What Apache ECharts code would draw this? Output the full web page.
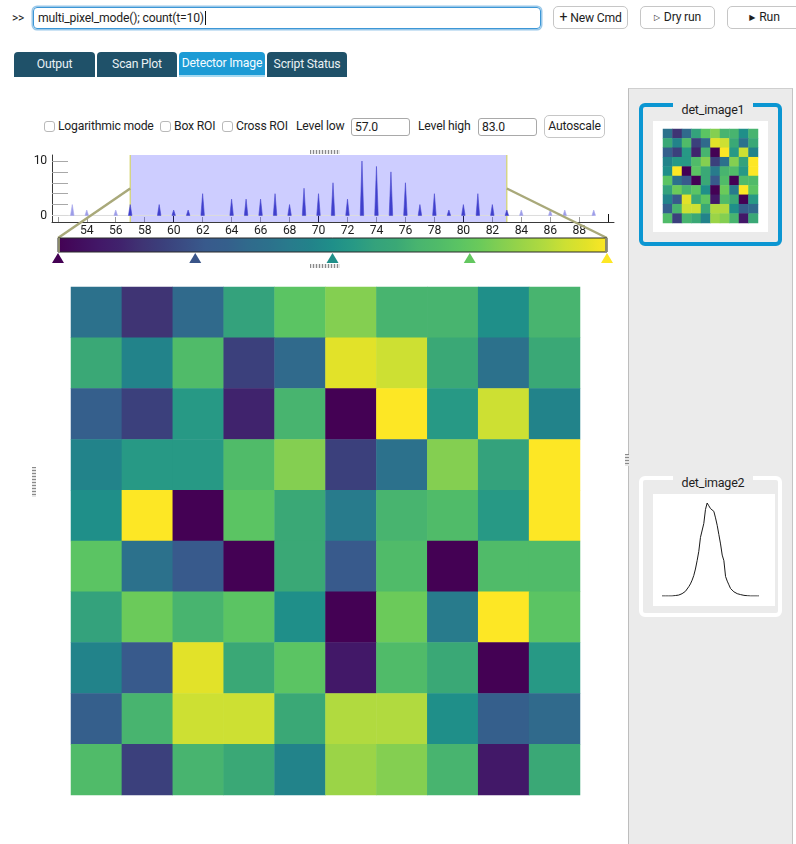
<!DOCTYPE html>
<html>
<head>
<meta charset="utf-8">
<script src="https://cdn.jsdelivr.net/npm/echarts@6/dist/echarts.min.js"></script>
<style>
  html, body { margin: 0; padding: 0; }
  body { width: 796px; height: 844px; overflow: hidden; background: #fff; position: relative;
         font-family: Roboto, "Noto Sans", "Liberation Sans", sans-serif; font-size: 12px; color: #1e1e1e;
         letter-spacing: -0.2px; }
  .abs { position: absolute; box-sizing: border-box; white-space: nowrap; }
  .cmd { left: 33px; top: 7px; width: 508px; height: 22px; border: 1px solid #3d97d6; border-radius: 4px;
         box-shadow: 0 0 0 1.5px rgba(70,155,215,0.55); padding: 0 4px; line-height: 20px; font-size: 12.2px; }
  .caret { display: inline-block; width: 1px; height: 14px; background: #111; vertical-align: -3px; margin-left: 1px; }
  .btn { top: 6px; height: 23px; width: 75px; border: 1px solid #c6c6c6; border-radius: 5px; background: #fff;
         text-align: center; line-height: 21px; font-size: 12.2px; }
  .ico { font-family: "DejaVu Sans", sans-serif; font-size: 8px; vertical-align: 1px; margin-right: 4px; }
  .tab { top: 52px; height: 25px; line-height: 24px; text-align: center; background: #1f5169; color: #e9f0f4;
         border-radius: 4px 4px 0 0; font-size: 12.2px; }
  .tab.sel { background: #1d9bd5; color: #f5fbff; border-bottom: 2px solid #a6d9f0; line-height: 23px; }
  .chk { width: 11px; height: 11px; border: 1px solid #b9b9b9; border-radius: 3px; background: #fff; top: 121px; }
  .lbl { top: 119px; font-size: 12.2px; }
  .fld { top: 118px; height: 18px; border: 1px solid #a9a9a9; border-radius: 3px; padding-left: 3px;
         line-height: 16px; font-size: 12.2px; background: #fff; }
  .hgrip { height: 4px; background: repeating-linear-gradient(90deg, #8a8a8a 0 1px, #e6e6e6 1px 3px); }
  .vgrip { width: 4px; background: repeating-linear-gradient(180deg, #8a8a8a 0 1px, #e6e6e6 1px 3px); }
  .panel { left: 628px; top: 88px; width: 165px; height: 760px; background: #ebebeb;
           border-left: 1px solid #bdbdbd; border-right: 1px solid #c4c4c4; border-top: 1px solid #cfcfcf; }
  .frame { width: 143px; border-radius: 6px; }
  .ftitle { left: 673px; width: 80px; height: 16px; background: #ebebeb; text-align: center; font-size: 12.5px; line-height: 16px; }
</style>
</head>
<body>
  <div class="abs" style="left:12px;top:11px;">&gt;&gt;</div>
  <div class="abs cmd">multi_pixel_mode(); count(t=10)<span class="caret"></span></div>
  <div class="abs btn" style="left:553px;"><span style="font-size:14px;margin-right:3px;">+</span>New Cmd</div>
  <div class="abs btn" style="left:640px;"><span class="ico">&#9655;</span>Dry run</div>
  <div class="abs btn" style="left:727px;"><span class="ico">&#9654;</span>Run</div>

  <div class="abs tab" style="left:14px;width:81px;">Output</div>
  <div class="abs tab" style="left:97px;width:80px;">Scan Plot</div>
  <div class="abs tab sel" style="left:179px;width:86px;">Detector Image</div>
  <div class="abs tab" style="left:267px;width:80px;">Script Status</div>

  <div class="abs chk" style="left:44px;"></div>
  <div class="abs lbl" style="left:58px;">Logarithmic mode</div>
  <div class="abs chk" style="left:160px;"></div>
  <div class="abs lbl" style="left:174px;">Box ROI</div>
  <div class="abs chk" style="left:222px;"></div>
  <div class="abs lbl" style="left:236px;">Cross ROI</div>
  <div class="abs lbl" style="left:296px;">Level low</div>
  <div class="abs fld" style="left:351px;width:59px;" id="lowField"></div>
  <div class="abs lbl" style="left:418px;">Level high</div>
  <div class="abs fld" style="left:478px;width:59px;" id="highField"></div>
  <div class="abs btn" style="left:544px;top:115px;width:61px;">Autoscale</div>

  <div id="levels" class="abs" style="left:0;top:140px;width:628px;height:704px;"></div>

  <div class="abs hgrip" style="left:310px;top:150px;width:30px;"></div>
  <div class="abs hgrip" style="left:310px;top:264px;width:30px;"></div>
  <div class="abs vgrip" style="left:32px;top:467px;height:30px;"></div>

  <div class="abs panel"></div>
  <div class="abs vgrip" style="left:625px;top:454px;height:12px;"></div>

  <div class="abs frame" style="left:639px;top:103px;height:143px;border:4px solid #0b96d2;"></div>
  <div class="abs ftitle" style="top:102px;">det_image1</div>
  <div class="abs" style="left:653px;top:121px;width:115px;height:111px;background:#fff;">
    <div id="thumb1" style="width:115px;height:111px;"></div>
  </div>

  <div class="abs frame" style="left:639px;top:476px;height:141px;border:4px solid #fff;"></div>
  <div class="abs ftitle" style="top:475px;">det_image2</div>
  <div class="abs" style="left:653px;top:494px;width:122px;height:112px;background:#fff;">
    <div id="thumb2" style="width:122px;height:112px;"></div>
  </div>

<script>
// Display levels of the detector image
const LEVEL_LOW = 57.0;
const LEVEL_HIGH = 83.0;

// 10 x 10 detector counts, top row first
const PIXELS = [
  [67, 61, 66, 72, 76, 78, 74, 74, 70, 74],
  [73, 69, 75, 62, 66, 82, 81, 73, 67, 73],
  [65, 62, 71, 60, 74, 57, 84, 71, 81, 69],
  [69, 71, 71, 75, 78, 62, 67, 78, 72, 86],
  [70, 89, 53, 76, 73, 68, 74, 75, 71, 83],
  [76, 67, 64, 56, 73, 64, 75, 54, 75, 75],
  [72, 77, 74, 76, 70, 57, 77, 68, 87, 76],
  [69, 64, 82, 73, 76, 59, 75, 73, 53, 71],
  [65, 74, 81, 81, 73, 80, 80, 70, 65, 66],
  [75, 62, 74, 73, 69, 79, 78, 74, 59, 73]
];

// Intensity histogram of the image
const HIST_LEVELS = [53, 54, 56, 57, 59, 60, 61, 62, 64, 65, 66, 67, 68, 69, 70, 71,
                     72, 73, 74, 75, 76, 77, 78, 79, 80, 81, 82, 83, 84, 86, 87, 89];
const HIST_COUNTS = [2, 1, 1, 2, 2, 1, 1, 4, 3, 3, 3, 4, 2, 5, 4, 6,
                     3, 10, 9, 8, 6, 2, 4, 1, 2, 4, 2, 1, 1, 1, 1, 1];

// Histogram axis ticks and labels
const HIST_TICKS = [52, 54, 56, 58, 60, 62, 64, 66, 68, 70, 72, 74, 76, 78, 80, 82, 84, 86, 88, 90];
const HIST_LABELS = [54, 56, 58, 60, 62, 64, 66, 68, 70, 72, 74, 76, 78, 80, 82, 84, 86, 88];
const HIST_MAJOR = [60, 70, 80, 90];
const COUNT_TICKS = [0, 2, 4, 6, 8, 10];
const COUNT_LABELS = [0, 10];

// Second detector: 1-D profile
const PROFILE_X = [0, 1, 2, 3, 4, 5, 6, 7, 8, 9, 10, 11, 12, 13, 14, 15, 16, 17, 18, 19,
                   20, 21, 22, 23, 24, 25, 26, 27, 28, 29, 30, 31, 32, 33, 34, 35, 36, 37, 38, 39,
                   40, 41, 42, 43, 44, 45, 46, 47, 48, 49, 50, 51, 52, 53, 54, 55, 56, 57, 58];
const PROFILE_Y = [0, 0, 0, 0, 0, 0, 0, 0.3, 0.5, 0.8, 1, 1.5, 2.5, 3.5, 5, 7, 10, 13, 17, 22,
                   29, 38, 48, 63, 63, 78, 93, 100, 97, 94, 93, 91, 84, 76, 66, 56, 44, 38, 21, 16,
                   12, 8, 6, 4.5, 3.5, 2.5, 2, 1.5, 1, 0.7, 0.5, 0.3, 0, 0, 0, 0, 0, 0, 0];

// Colour ramp, one stop per count from LEVEL_LOW to LEVEL_HIGH
const RAMP = ['#440154', '#420d5e', '#421868', '#40236d', '#3f3474', '#3b407c', '#3a4d84',
              '#385a8c', '#355f8c', '#306a8c', '#2c718c', '#287b8c', '#22838a', '#1f8f89',
              '#279985', '#34a27c', '#3aa876', '#48b46f', '#50bb69', '#5bc463', '#6bca5a',
              '#84cf51', '#9bd447', '#b1da3f', '#cde033', '#e2e229', '#fde725'];

document.getElementById('lowField').textContent = LEVEL_LOW.toFixed(1);
document.getElementById('highField').textContent = LEVEL_HIGH.toFixed(1);

const FONT = 'Roboto, "Noto Sans", sans-serif';

// heatmap cells: [column, row, value, value clipped to the display levels]
function cells() {
  const out = [];
  PIXELS.forEach((row, r) => row.forEach((v, c) => {
    out.push([c, r, v, Math.min(LEVEL_HIGH, Math.max(LEVEL_LOW, v))]);
  }));
  return out;
}
const idx = PIXELS[0].map((_, i) => i);

const chart = echarts.init(document.getElementById('levels'), null, { renderer: 'canvas' });
const HG = { left: 52, top: 15, width: 562, height: 67 };
const X_MIN = 51.6, X_MAX = 90.4, Y_MIN = -1.2, Y_MAX = 11.1;

chart.setOption({
  animation: false,
  textStyle: { fontFamily: FONT },
  grid: [
    { left: HG.left, top: HG.top, width: HG.width, height: HG.height },
    { left: 71, top: 147, width: 509, height: 508 }
  ],
  xAxis: [
    { type: 'value', gridIndex: 0, min: X_MIN, max: X_MAX, position: 'bottom',
      axisLine: { show: true, onZero: false, lineStyle: { color: '#3a3a3a', width: 1 } },
      axisTick: { show: true, inside: true, length: 5, customValues: HIST_TICKS, lineStyle: { color: '#9a9a9a' } },
      axisLabel: { show: true, customValues: HIST_LABELS, margin: 3, fontSize: 12.2, color: '#1e1e1e', fontFamily: FONT },
      splitLine: { show: false } },
    { type: 'value', gridIndex: 0, min: X_MIN, max: X_MAX, position: 'top', offset: -HG.height,
      axisLine: { show: false, onZero: false },
      axisTick: { show: true, inside: false, length: 8, customValues: HIST_MAJOR, lineStyle: { color: '#111' } },
      axisLabel: { show: false }, splitLine: { show: false } },
    { type: 'category', gridIndex: 1, data: idx, show: false }
  ],
  yAxis: [
    { type: 'value', gridIndex: 0, min: Y_MIN, max: Y_MAX,
      axisLine: { show: true, onZero: false, lineStyle: { color: '#3a3a3a', width: 1 } },
      axisTick: { show: true, inside: true, length: 16, customValues: COUNT_TICKS, lineStyle: { color: '#a8a8a8' } },
      axisLabel: { show: true, customValues: COUNT_LABELS, margin: 5, fontSize: 12.2, color: '#1e1e1e', fontFamily: FONT },
      splitLine: { show: false } },
    { type: 'category', gridIndex: 1, data: idx, inverse: true, show: false }
  ],
  visualMap: {
    type: 'continuous', show: false, min: LEVEL_LOW, max: LEVEL_HIGH, dimension: 3,
    seriesIndex: 2, inRange: { color: RAMP }
  },
  series: [
    { // level region
      type: 'custom', xAxisIndex: 0, yAxisIndex: 0, z: 1, silent: true,
      data: [[LEVEL_LOW, LEVEL_HIGH]],
      renderItem(params, api) {
        const cs = params.coordSys;
        const x0 = api.coord([api.value(0), 0])[0];
        const x1 = api.coord([api.value(1), 0])[0];
        return { type: 'group', children: [
          { type: 'rect', shape: { x: x0, y: cs.y, width: x1 - x0, height: cs.height },
            style: { fill: 'rgba(60,60,255,0.26)' } },
          { type: 'line', shape: { x1: x0, y1: cs.y, x2: x0, y2: cs.y + cs.height },
            style: { stroke: '#d4d46a', lineWidth: 1.2 } },
          { type: 'line', shape: { x1: x1, y1: cs.y, x2: x1, y2: cs.y + cs.height },
            style: { stroke: '#d4d46a', lineWidth: 1.2 } }
        ] };
      }
    },
    { // histogram spikes
      type: 'custom', xAxisIndex: 0, yAxisIndex: 0, z: 2, silent: true, clip: true,
      data: HIST_LEVELS.map((v, i) => [v, HIST_COUNTS[i]]),
      renderItem(params, api) {
        const v = api.value(0), n = api.value(1);
        const l = api.coord([v - 0.12, 0]), t = api.coord([v, n]), r = api.coord([v + 0.12, 0]);
        const inside = v >= LEVEL_LOW && v <= LEVEL_HIGH;
        const children = [];
        if (params.dataIndex === 0) {
          const a = api.coord([X_MIN, 0]);
          const b = api.coord([HIST_LEVELS[HIST_LEVELS.length - 1], 0]);
          children.push({ type: 'line', shape: { x1: a[0], y1: a[1], x2: b[0], y2: b[1] },
                          style: { stroke: '#dcdcdc', lineWidth: 1 } });
        }
        children.push({ type: 'polygon', shape: { points: [l, t, r] },
          style: { fill: inside ? '#3f3fcc' : '#9c9ce8', stroke: inside ? '#4848d0' : '#a8a8ec', lineWidth: 0.6 } });
        return { type: 'group', children };
      }
    },
    { // detector image
      type: 'heatmap', xAxisIndex: 2, yAxisIndex: 1, data: cells(),
      itemStyle: { borderWidth: 0 }, emphasis: { disabled: true }
    }
  ]
});

// colour bar with level handles and the lines tying it to the level region
(function drawColorBar() {
  const bar = { x: 58, y: 98, w: 549, h: 14 };
  const stops = RAMP.map((c, i) => ({ offset: i / (RAMP.length - 1), color: c }));
  const midY = HG.top + HG.height / 2;
  const pl = chart.convertToPixel({ xAxisIndex: 0, yAxisIndex: 0 }, [LEVEL_LOW, 0]);
  const ph = chart.convertToPixel({ xAxisIndex: 0, yAxisIndex: 0 }, [LEVEL_HIGH, 0]);
  const handles = [0, 0.25, 0.5, 0.75, 1].map(f => {
    const cx = bar.x + f * bar.w;
    const col = echarts.color.lerp(f, RAMP);
    return { type: 'polygon', z: 20, shape: { points: [[cx - 6, bar.y + bar.h + 11], [cx, bar.y + bar.h + 1], [cx + 6, bar.y + bar.h + 11]] },
             style: { fill: col } };
  });
  chart.setOption({
    graphic: [
      { type: 'line', z: 15, shape: { x1: pl[0], y1: midY, x2: bar.x, y2: bar.y },
        style: { stroke: '#a9a97a', lineWidth: 2.5 } },
      { type: 'line', z: 15, shape: { x1: ph[0], y1: midY, x2: bar.x + bar.w, y2: bar.y },
        style: { stroke: '#a9a97a', lineWidth: 2.5 } },
      { type: 'rect', z: 16, shape: { x: bar.x, y: bar.y, width: bar.w, height: bar.h },
        style: { fill: new echarts.graphic.LinearGradient(0, 0, 1, 0, stops), stroke: '#2b2b2b', lineWidth: 1 } },
      { type: 'line', z: 17, shape: { x1: bar.x + 1, y1: bar.y, x2: bar.x + 1, y2: bar.y + bar.h },
        style: { stroke: '#8b8b6a', lineWidth: 2 } },
      { type: 'line', z: 17, shape: { x1: bar.x + bar.w - 1, y1: bar.y, x2: bar.x + bar.w - 1, y2: bar.y + bar.h },
        style: { stroke: '#8b8b6a', lineWidth: 2 } }
    ].concat(handles)
  });
})();

// thumbnail of the detector image
const t1 = echarts.init(document.getElementById('thumb1'));
t1.setOption({
  animation: false,
  grid: { left: 10, top: 8, width: 95, height: 94 },
  xAxis: { type: 'category', data: idx, show: false },
  yAxis: { type: 'category', data: idx, inverse: true, show: false },
  visualMap: { type: 'continuous', show: false, min: LEVEL_LOW, max: LEVEL_HIGH, dimension: 3, inRange: { color: RAMP } },
  series: [{ type: 'heatmap', data: cells(), emphasis: { disabled: true } }]
});

// thumbnail of the 1-D profile
const t2 = echarts.init(document.getElementById('thumb2'));
t2.setOption({
  animation: false,
  grid: { left: 9, right: 16, top: 9, bottom: 10 },
  xAxis: { type: 'value', min: 0, max: 58, show: false },
  yAxis: { type: 'value', min: 0, max: 100, show: false },
  series: [{ type: 'line', data: PROFILE_X.map((x, i) => [x, PROFILE_Y[i]]), symbol: 'none',
             lineStyle: { color: '#1a1a1a', width: 1 } }]
});
</script>
</body>
</html>
